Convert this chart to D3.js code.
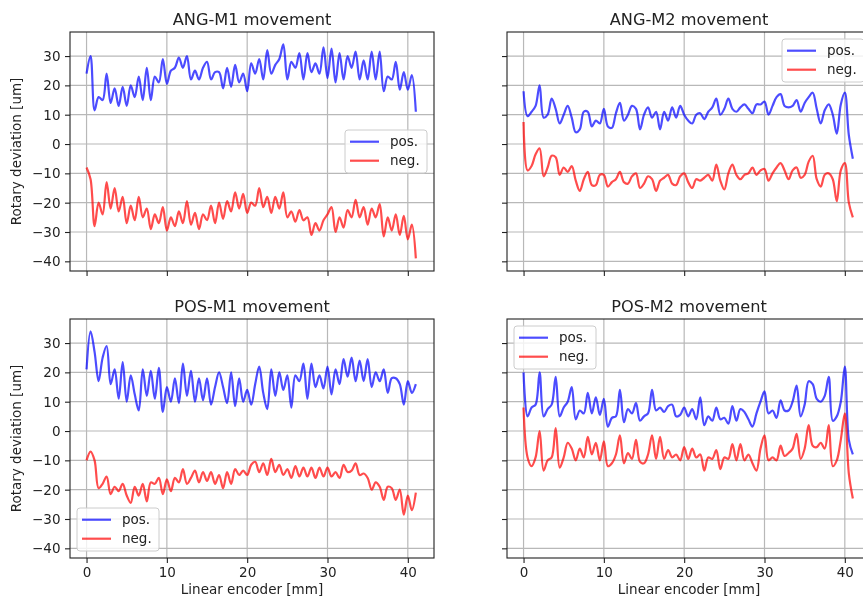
<!DOCTYPE html>
<html>
<head>
<meta charset="utf-8">
<script src="https://cdn.jsdelivr.net/npm/d3@7"></script>
<style>
  body { margin: 0; background: #fff; }
  svg { display: block; font-family: "DejaVu Sans", sans-serif; }
</style>
</head>
<body>
<div id="target"></div>
<script>
// encoder positions [mm], shared by all series
const encoderMm = [
  0, 0.5, 1, 1.5, 2, 2.5, 3, 3.5, 4, 4.5,
  5, 5.5, 6, 6.5, 7, 7.5, 8, 8.5, 9, 9.5,
  10, 10.5, 11, 11.5, 12, 12.5, 13, 13.5, 14, 14.5,
  15, 15.5, 16, 16.5, 17, 17.5, 18, 18.5, 19, 19.5,
  20, 20.5, 21, 21.5, 22, 22.5, 23, 23.5, 24, 24.5,
  25, 25.5, 26, 26.5, 27, 27.5, 28, 28.5, 29, 29.5,
  30, 30.5, 31, 31.5, 32, 32.5, 33, 33.5, 34, 34.5,
  35, 35.5, 36, 36.5, 37, 37.5, 38, 38.5, 39, 39.5,
  40, 40.5, 41,
];

const angM1Pos = [
  24, 30, 11.5, 16, 15, 24, 14, 19, 13, 19.5,
  13, 20, 16, 23, 15, 26, 15, 23, 21, 29,
  20.5, 25, 26, 29.5, 26, 30, 22, 25, 22, 26,
  28, 22, 24.5, 24.5, 19, 26, 19.5, 27, 21, 24,
  18, 27.5, 24, 29, 22, 32, 24, 27, 29, 34,
  22, 28, 26, 31, 22, 31, 24.5, 27.5, 24, 33,
  22.5, 32.5, 21, 31, 22, 30, 26, 31.5, 22, 28.5,
  22, 31.5, 22, 31.5, 18, 23, 22, 28, 18.5, 24.5,
  18.5, 23.5, 11,
];
const angM1Neg = [
  -8, -12, -28, -20, -24, -13, -22, -15, -23, -18,
  -27, -21, -26, -18, -25, -22, -29, -24, -27, -21.5,
  -29.5, -25, -28, -23, -27, -19.5, -27.5, -23.5, -29, -24,
  -26, -21, -27, -20, -25.5, -19.5, -23, -16.5, -22, -17,
  -23.5, -20, -21, -15, -21.5, -18, -23.5, -18, -22, -16.5,
  -25, -23, -26.5, -22.5, -26, -25, -31, -27, -29.5, -26,
  -24, -21.5, -30, -25, -28.5, -22.5, -25, -19, -25, -21.5,
  -27.5, -22, -25, -20.5, -31.5, -25, -29.5, -24, -31, -24.5,
  -32.5, -27.5, -39,
];
const angM2Pos = [
  18, 9.5, 11, 13, 20, 9, 10, 15.5, 12, 7,
  10, 13, 9, 4, 5, 11, 11, 6, 8, 7,
  12, 6, 5.5, 10.5, 14, 8, 10, 13, 12, 5,
  10, 12.5, 9, 11, 5, 11, 8, 12.5, 9, 13,
  10, 8, 7, 10, 10.5, 8.5, 11, 12.5, 15.5, 10,
  12, 15.5, 12, 11, 12.5, 13.5, 12, 10.5, 13.5, 13.5,
  14.5, 10, 13, 16, 17, 13, 12.5, 13, 15, 11,
  14, 16, 17.5, 12, 7, 11.5, 13.5, 10, 3.5, 13.5,
  17.5, 3, -5,
];
const angM2Neg = [
  7.5, -9, -7.5, -3.5, -1.5, -11, -8, -4, -4.5, -10.5,
  -8, -9.5, -7.5, -12.5, -16, -12, -9.5, -14, -14, -10.5,
  -10.5, -14.5, -13, -12, -9.5, -13, -13.5, -11, -10, -15,
  -13.5, -11, -12, -16, -12.5, -11.5, -10.5, -13.5, -14, -11,
  -10, -13, -15, -12, -12.5, -11.5, -10.5, -12.5, -7, -12.5,
  -15.5, -10, -7, -10.5, -12, -10.5, -10, -8, -10.5, -9,
  -8.5, -12.5, -10, -8, -6.5, -9, -12, -9, -8, -11.5,
  -10.5, -6, -4, -12, -14.5, -10.5, -10, -12, -19.5, -9,
  -6.5, -20, -25,
];
const posM1Pos = [
  21, 34, 27, 17, 25, 29, 16, 21, 11, 23.5,
  10, 19, 12.5, 7, 21, 12, 20.5, 11, 21.5, 6.5,
  15, 10, 18, 9.5, 23, 12, 20.5, 10, 18, 10.5,
  18, 9, 15, 20, 15, 9.5, 20, 8.5, 18, 10,
  14, 9, 16, 22, 13, 7.5, 21, 12, 20, 14,
  19, 8, 19, 17, 23, 11, 23, 15, 19, 14.5,
  22, 12.5, 21, 16, 24.5, 18.5, 25, 17, 24, 17,
  24.5, 15, 20, 17, 21, 13, 18, 18, 16, 9,
  17, 13, 16,
];
const posM1Neg = [
  -10, -7, -10, -19.5, -18, -15.5, -21.5, -19, -20.5, -18,
  -22, -24.5, -19, -22, -18, -24, -17.5, -18, -16, -21.5,
  -16.5, -20.5, -16, -17.5, -13, -18, -16, -13.5, -17.5, -14,
  -17, -14, -18, -15, -19.5, -14, -18, -13, -15, -13.5,
  -15, -11.5, -10.5, -14, -11, -15, -9.5, -14, -11.5, -15,
  -13, -16, -12, -15.5, -12.5, -15.5, -12.5, -16, -12.5, -15.5,
  -12.5, -15.5, -14, -16, -11.5, -14, -13.5, -11, -15, -14.5,
  -16, -20, -17.5, -19, -23.5, -19, -19.5, -23.5, -20, -28.5,
  -22, -27, -21,
];
const posM2Pos = [
  20, 5, 8, 9, 20, 5, 7.5, 9, 18.5, 5,
  8, 10, 15, 4, 7, 6, 13, 6, 11.5, 5.5,
  11, 1.5, 4.5, 5, 14, 3, 7.5, 6, 9.5, 3.5,
  5, 6, 14, 7, 8, 6.5, 8.5, 9, 5, 5.5,
  8, 5, 7.5, 4, 11.5, 2, 5, 3.5, 8, 4,
  4.5, 2.5, 8.5, 3.5, 7.5, 6.5, 4, 1.5, 6, 10,
  13.5, 6, 7, 4.5, 10.5, 7, 7, 10, 15.5, 5,
  9, 17, 16, 11, 10, 12, 18.5, 3.5, 5, 10,
  22, -3, -8,
];
const posM2Neg = [
  8, -9, -12, -9, 0, -13.5, -10, -9, 1, -12.5,
  -9, -4, -6, -10, -6, -9, -2, -8, -4, -10,
  -3.5, -12, -11, -8, -1.5, -11, -7.5, -9.5, -3, -10.5,
  -11, -8, -1.5, -9.5, -2, -9.5, -6.5, -9, -8, -10,
  -5.5, -9.5, -6, -9, -8, -13.5, -9, -9.5, -6.5, -13,
  -9, -9.5, -4.5, -10, -4.5, -10, -8, -11, -13.5, -6,
  -1.5, -10, -9, -10, -5, -8.5, -7.5, -6, -1, -9.5,
  -6, 2, -5, -5.5, -4, -6, 2, -12, -10, -3,
  6, -14.5, -23,
];

const titles = ['ANG-M1 movement', 'ANG-M2 movement', 'POS-M1 movement', 'POS-M2 movement'];
const posSeries = [angM1Pos, angM2Pos, posM1Pos, posM2Pos];
const negSeries = [angM1Neg, angM2Neg, posM1Neg, posM2Neg];
const legendLocs = ['center right', 'upper right', 'lower left', 'upper left'];
const seriesLabels = ['pos.', 'neg.'];
const xTicks = [0, 10, 20, 30, 40];
const yTicks = [-40, -30, -20, -10, 0, 10, 20, 30];

const width = 863;
const height = 598;
const W = 364;
const H = 239;
const colLeft = [70, 507];
const rowTop = [32, 319];
const colors = ['#0000ff', '#ff0000'];

const svg = d3.select('#target').append('svg').attr('width', width).attr('height', height);
svg.append('rect').attr('width', width).attr('height', height).attr('fill', '#fff');

// the source picture is a little soft, so soften ours a touch too
svg
  .append('defs')
  .append('filter')
  .attr('id', 'soft')
  .append('feGaussianBlur')
  .attr('stdDeviation', 0.45);

const root = svg.append('g').attr('filter', 'url(#soft)');

const x = d3.scaleLinear().domain([-2.06, 43.26]).range([0, W]);
const y = d3.scaleLinear().domain([-43.3, 38.2]).range([H, 0]);

const line = d3
  .line()
  .curve(d3.curveCatmullRom.alpha(0.5))
  .x((d, i) => x(encoderMm[i]))
  .y((d) => y(d));

function legendPos(loc) {
  const bw = 82;
  const bh = 43;
  const pad = 7;
  if (loc === 'center right') return [W - pad - bw, H / 2 - bh / 2];
  if (loc === 'upper right') return [W - pad - bw, pad];
  if (loc === 'lower left') return [pad, H - pad - bh];
  return [pad, pad];
}

titles.forEach((title, k) => {
  const col = k % 2;
  const row = Math.floor(k / 2);
  const g = root.append('g').attr('transform', `translate(${colLeft[col]},${rowTop[row]})`);

  // grid
  g.append('g')
    .selectAll('line')
    .data(xTicks)
    .enter()
    .append('line')
    .attr('x1', (d) => x(d))
    .attr('x2', (d) => x(d))
    .attr('y1', 0)
    .attr('y2', H)
    .attr('stroke', '#b8b8b8')
    .attr('stroke-width', 1.2);
  g.append('g')
    .selectAll('line')
    .data(yTicks)
    .enter()
    .append('line')
    .attr('x1', 0)
    .attr('x2', W)
    .attr('y1', (d) => y(d))
    .attr('y2', (d) => y(d))
    .attr('stroke', '#b8b8b8')
    .attr('stroke-width', 1.2);

  // series
  [posSeries[k], negSeries[k]].forEach((s, j) => {
    g.append('path')
      .datum(s)
      .attr('d', line)
      .attr('fill', 'none')
      .attr('stroke', colors[j])
      .attr('stroke-opacity', 0.7)
      .attr('stroke-width', 2.2)
      .attr('stroke-linejoin', 'round');
  });

  // axes
  const xAxis = d3.axisBottom(x).tickValues(xTicks).tickSize(5).tickPadding(4);
  if (row === 0) xAxis.tickFormat('');
  const yAxis = d3.axisLeft(y).tickValues(yTicks).tickSize(5).tickPadding(4.5);
  if (col === 1) yAxis.tickFormat('');

  const gx = g.append('g').attr('transform', `translate(0,${H})`).call(xAxis);
  const gy = g.append('g').call(yAxis);
  [gx, gy].forEach((a) => {
    a.select('.domain').remove();
    a.selectAll('line').attr('stroke', '#222').attr('stroke-width', 1.1);
    a.selectAll('text').attr('fill', '#222').style('font-size', '13.5px').style('font-family', 'DejaVu Sans');
  });

  // spines
  g.append('rect')
    .attr('width', W)
    .attr('height', H)
    .attr('fill', 'none')
    .attr('stroke', '#222')
    .attr('stroke-width', 1.1);

  g.append('text')
    .attr('x', W / 2)
    .attr('y', -7)
    .attr('text-anchor', 'middle')
    .attr('fill', '#222')
    .style('font-size', '16.2px')
    .text(title);

  if (col === 0) {
    g.append('text')
      .attr('transform', `translate(${21 - colLeft[0]},${H / 2}) rotate(-90)`)
      .attr('text-anchor', 'middle')
      .attr('fill', '#222')
      .style('font-size', '13.5px')
      .text('Rotary deviation [um]');
  }
  if (row === 1) {
    g.append('text')
      .attr('x', W / 2)
      .attr('y', 594 - rowTop[1])
      .attr('text-anchor', 'middle')
      .attr('fill', '#222')
      .style('font-size', '13.5px')
      .text('Linear encoder [mm]');
  }

  // legend
  const [lx, ly] = legendPos(legendLocs[k]);
  const lg = g.append('g').attr('transform', `translate(${lx},${ly})`);
  lg.append('rect')
    .attr('width', 82)
    .attr('height', 43)
    .attr('rx', 3)
    .attr('fill', '#fff')
    .attr('fill-opacity', 0.8)
    .attr('stroke', '#cccccc')
    .attr('stroke-width', 1);
  seriesLabels.forEach((lab, j) => {
    const ry = 11.7 + j * 19;
    lg.append('line')
      .attr('x1', 5)
      .attr('x2', 34)
      .attr('y1', ry)
      .attr('y2', ry)
      .attr('stroke', colors[j])
      .attr('stroke-opacity', 0.7)
      .attr('stroke-width', 2.2);
    lg.append('text')
      .attr('x', 45)
      .attr('y', ry + 4.6)
      .attr('fill', '#222')
      .style('font-size', '13.5px')
      .text(lab);
  });
});
</script>
</body>
</html>
